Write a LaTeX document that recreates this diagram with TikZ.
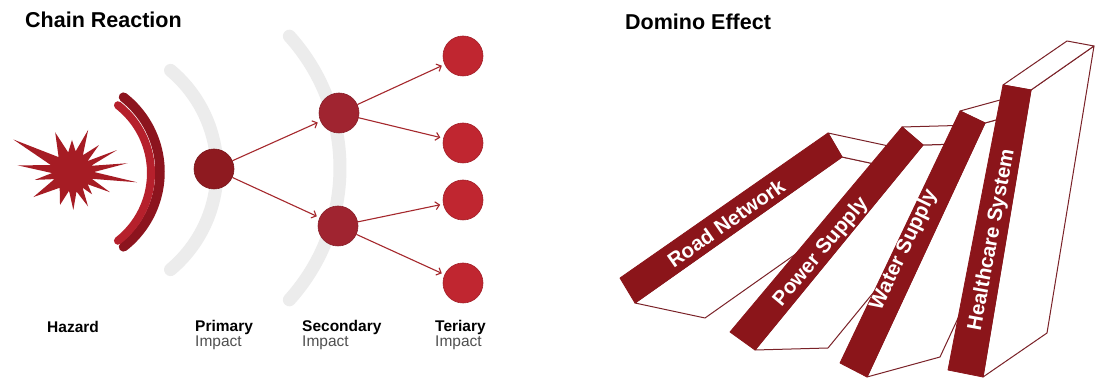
\documentclass[tikz,border=0pt]{standalone}
\usepackage{fontspec}
\setmainfont{Liberation Sans}
\usepackage{tikz}
\usetikzlibrary{calc,positioning,arrows.meta}

\definecolor{dominored}{RGB}{139,21,26}
\definecolor{edgered}{RGB}{122,34,40}
\definecolor{hazardred}{RGB}{166,28,36}
\definecolor{arcdark}{RGB}{140,20,30}
\definecolor{arclight}{RGB}{182,32,44}
\definecolor{primred}{RGB}{142,26,32}
\definecolor{secred}{RGB}{160,36,48}
\definecolor{terred}{RGB}{192,38,48}
\definecolor{arrowred}{RGB}{165,40,45}
\definecolor{wave}{RGB}{236,236,236}
\definecolor{subgray}{RGB}{80,80,80}

\tikzset{
    title/.style={anchor=base west, inner sep=0pt, font=\fontsize{21.5}{26}\selectfont\bfseries},
    lbl/.style={anchor=base west, inner sep=0pt, font=\fontsize{15.5}{18}\selectfont\bfseries},
    sublbl/.style={anchor=base west, inner sep=0pt, text=subgray, font=\fontsize{15.5}{18}\selectfont},
    impact/.style={circle, minimum size=40pt, inner sep=0pt, fill=#1, draw=#1!85!black, line width=0.6pt},
    link/.style={arrowred, line width=1.1pt, shorten >=3pt, -{Straight Barb[length=4pt,width=8pt]}},
    face/.style={fill=white, draw=edgered, line width=1pt, line join=round},
    band/.style={fill=dominored, draw=dominored, line width=0.8pt, line join=round},
    bandtext/.style={text=white, inner sep=0pt, font=\fontsize{20.5}{24}\selectfont\bfseries},
}

\begin{document}
\begin{tikzpicture}[x=1pt, y=1pt]
    \fill[white] (0,0) rectangle (1095,380);
    \useasboundingbox (0,0) rectangle (1095,380);

    \node[title] (chain) at (25,352) {Chain Reaction};
    \node[title] (domino) at (625,350) {Domino Effect};

    % grey waves behind the impacts
    \draw[wave, line width=13pt, line cap=round] ($(87,210)+(-50:130)$) arc (-50:50:130);
    \draw[wave, line width=13pt, line cap=round] ($(143,212)+(-42:197)$) arc (-42:42:197);

    % hazard burst
    \begin{scope}[shift={(72,208)}]
        \fill[hazardred] (9:56) \foreach \a/\r in {18/20, 26/50, 35/19, 45/38, 57/20, 69/45, 80/21,
            90/32, 101/20, 113/43, 132/20, 151/67, 162/22, 173/55, 183/20, 192/38, 202/19, 213/46,
            232/20, 250/35, 261/19, 272/38, 283/20, 295/38, 304/19, 312/30, 322/20, 332/43, 341/21,
            351/66, 0/22} { -- (\a:\r) } -- cycle;
    \end{scope}

    % shock front
    \draw[arcdark, line width=9.5pt, line cap=round] ($(65,208)+(-52:95)$) arc (-52:52:95);
    \draw[arclight, line width=8pt, line cap=round] ($(65,207)+(-52:86)$) arc (-52:52:86);

    % impacts
    \node[impact=primred] (p) at (214,211) {};
    \node[impact=secred] (s1) at (339,267) {};
    \node[impact=secred] (s2) at (338,154) {};
    \node[impact=terred] (t1) at (463,324) {};
    \node[impact=terred] (t2) at (463,237) {};
    \node[impact=terred] (t3) at (463,180) {};
    \node[impact=terred] (t4) at (463,97) {};

    \draw[link] (p) -- (s1);
    \draw[link] (p) -- (s2);
    \draw[link] (s1) -- (t1);
    \draw[link] (s1) -- (t2);
    \draw[link] (s2) -- (t3);
    \draw[link] (s2) -- (t4);

    \node[lbl] (haz) at (47,47) {Hazard};
    \node[lbl] (prim) at (195,48) {Primary};
    \node[sublbl] (primi) at (195,33) {Impact};
    \node[lbl] (sec) at (302,48) {Secondary};
    \node[sublbl] (seci) at (302,33) {Impact};
    \node[lbl] (ter) at (435,48) {Teriary};
    \node[sublbl] (teri) at (435,33) {Impact};

    % road network
    \coordinate (r1) at (620,102);
    \coordinate (r2) at (635,77);
    \coordinate (r3) at (842,223);
    \coordinate (r4) at (828,247);
    \draw[face] (r2) -- ++(70,-15) -- ($(r3)+(70,-15)$) -- (r3) -- cycle;
    \draw[face] (r4) -- (r3) -- ++(70,-15) -- ($(r4)+(70,-15)$) -- cycle;
    \filldraw[band] (r1) -- (r2) -- (r3) -- (r4) -- cycle;
    \node[bandtext, rotate=35] (road) at (726,157) {Road Network};

    % power supply
    \coordinate (p1) at (730,48);
    \coordinate (p2) at (755,30);
    \coordinate (p3) at (923,235);
    \coordinate (p4) at (902,253);
    \draw[face] (p2) -- ++(73,2) -- ($(p3)+(73,2)$) -- (p3) -- cycle;
    \draw[face] (p4) -- (p3) -- ++(73,2) -- ($(p4)+(73,2)$) -- cycle;
    \filldraw[band] (p1) -- (p2) -- (p3) -- (p4) -- cycle;
    \node[bandtext, rotate=50] (power) at (821,128) {Power Supply};

    % water supply
    \coordinate (w1) at (840,17);
    \coordinate (w2) at (867,3);
    \coordinate (w3) at (985,257);
    \coordinate (w4) at (960,269);
    \draw[face] (w2) -- ++(73,20) -- ($(w3)+(73,20)$) -- (w3) -- cycle;
    \draw[face] (w4) -- (w3) -- ++(73,20) -- ($(w4)+(73,20)$) -- cycle;
    \filldraw[band] (w1) -- (w2) -- (w3) -- (w4) -- cycle;
    \node[bandtext, rotate=64.5] (water) at (904,130) {Water Supply};

    % healthcare system
    \coordinate (h1) at (948,10);
    \coordinate (h2) at (983,3);
    \coordinate (h3) at (1031,290);
    \coordinate (h4) at (1003,295);
    \draw[face] (h2) -- ++(64,44) -- ($(h3)+(63,44)$) -- (h3) -- cycle;
    \draw[face] (h4) -- (h3) -- ++(63,44) -- ($(h4)+(64,44)$) -- cycle;
    \filldraw[band] (h1) -- (h2) -- (h3) -- (h4) -- cycle;
    \node[bandtext, rotate=79.5] (health) at (992,140) {Healthcare System};
\end{tikzpicture}
\end{document}
